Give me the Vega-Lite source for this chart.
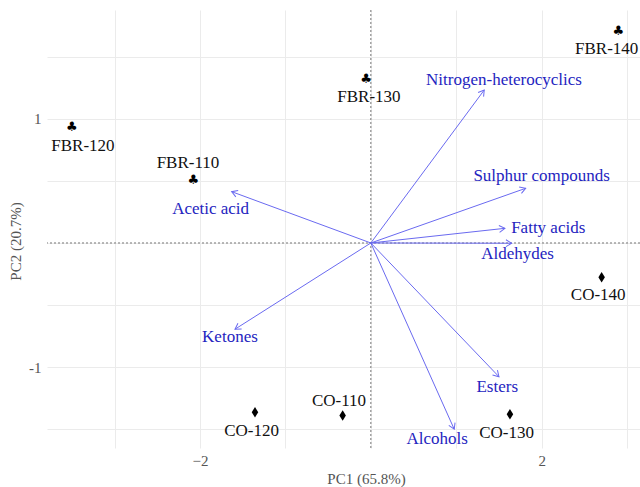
{
  "$schema": "https://vega.github.io/schema/vega-lite/v6.json",
  "width": 593,
  "height": 438,
  "autosize": {"type": "none"},
  "padding": {"left": 47, "top": 10, "right": 0, "bottom": 39},
  "background": "white",
  "config": {
    "view": {"stroke": null},
    "font": "Liberation Serif, Times New Roman, serif",
    "axis": {
      "labelFont": "Liberation Serif, Times New Roman, serif",
      "titleFont": "Liberation Serif, Times New Roman, serif",
      "labelFontSize": 15,
      "titleFontSize": 15,
      "labelColor": "#555555",
      "titleColor": "#555555",
      "titleFontWeight": "normal",
      "gridColor": "#ebebeb",
      "gridWidth": 1,
      "domain": false,
      "ticks": false,
      "tickSize": 0
    }
  },
  "datasets": {
    "scores": [
      {"sample": "FBR-120", "group": "FBR", "pc1": -3.50, "pc2": 0.936, "lx": -3.37, "ly": 0.783},
      {"sample": "FBR-110", "group": "FBR", "pc1": -2.078, "pc2": 0.507, "lx": -2.14, "ly": 0.645},
      {"sample": "FBR-130", "group": "FBR", "pc1": -0.057, "pc2": 1.319, "lx": -0.022, "ly": 1.177},
      {"sample": "FBR-140", "group": "FBR", "pc1": 2.895, "pc2": 1.708, "lx": 2.76, "ly": 1.558},
      {"sample": "CO-120", "group": "CO", "pc1": -1.356, "pc2": -1.362, "lx": -1.395, "ly": -1.51},
      {"sample": "CO-110", "group": "CO", "pc1": -0.33, "pc2": -1.389, "lx": -0.373, "ly": -1.27},
      {"sample": "CO-130", "group": "CO", "pc1": 1.628, "pc2": -1.378, "lx": 1.589, "ly": -1.531},
      {"sample": "CO-140", "group": "CO", "pc1": 2.701, "pc2": -0.276, "lx": 2.661, "ly": -0.418}
    ],
    "loadings": [
      {"variable": "Nitrogen-heterocyclics", "pc1": 1.327, "pc2": 1.231, "lx": 1.558, "ly": 1.311},
      {"variable": "Sulphur compounds", "pc1": 1.812, "pc2": 0.44, "lx": 1.999, "ly": 0.541},
      {"variable": "Fatty acids", "pc1": 1.569, "pc2": 0.118, "lx": 2.076, "ly": 0.121},
      {"variable": "Aldehydes", "pc1": 1.648, "pc2": -0.002, "lx": 1.718, "ly": -0.091},
      {"variable": "Acetic acid", "pc1": -1.629, "pc2": 0.413, "lx": -1.875, "ly": 0.271},
      {"variable": "Ketones", "pc1": -1.59, "pc2": -0.694, "lx": -1.649, "ly": -0.759},
      {"variable": "Esters", "pc1": 1.499, "pc2": -1.076, "lx": 1.479, "ly": -1.156},
      {"variable": "Alcohols", "pc1": 0.976, "pc2": -1.499, "lx": 0.777, "ly": -1.577}
    ]
  },
  "layer": [
    {
      "data": {"name": "scores"},
      "mark": {"type": "point", "opacity": 0},
      "encoding": {
        "x": {
          "field": "pc1", "type": "quantitative",
          "scale": {"domain": [-3.79, 3.15], "nice": false, "zero": false},
          "axis": {
            "title": "PC1 (65.8%)",
            "values": [-3, -2, -1, 0, 1, 2, 3],
            "format": "d",
            "labelExpr": "datum.value == -2 || datum.value == 2 ? datum.label : ''",
            "labelPadding": 5,
            "titleX": 319,
            "titleY": 30,
            "titleBaseline": "middle",
            "titleAnchor": "middle"
          }
        },
        "y": {
          "field": "pc2", "type": "quantitative",
          "scale": {"domain": [-1.65, 1.875], "nice": false, "zero": false},
          "axis": {
            "title": "PC2 (20.7%)",
            "values": [-1.5, -1, -0.5, 0, 0.5, 1, 1.5],
            "labelExpr": "datum.value == -1 ? '-1' : datum.value == 1 ? '1' : ''",
            "labelPadding": 6,
            "titleX": -32,
            "titleY": 231,
            "titleBaseline": "middle",
            "titleAnchor": "middle"
          }
        }
      }
    },
    {
      "data": {"values": [{"v": 0}]},
      "mark": {"type": "rule", "color": "#555555", "strokeDash": [2, 2], "strokeWidth": 0.8},
      "encoding": {"y": {"field": "v", "type": "quantitative"}}
    },
    {
      "data": {"values": [{"v": 0}]},
      "mark": {"type": "rule", "color": "#555555", "strokeDash": [2, 2], "strokeWidth": 0.8},
      "encoding": {"x": {"field": "v", "type": "quantitative"}}
    },
    {
      "data": {"name": "loadings"},
      "mark": {"type": "rule", "color": "#6a6af0", "strokeWidth": 1},
      "encoding": {
        "x": {"field": "pc1", "type": "quantitative"},
        "y": {"field": "pc2", "type": "quantitative"},
        "x2": {"datum": 0},
        "y2": {"datum": 0}
      }
    },
    {
      "data": {"name": "loadings"},
      "transform": [
        {"calculate": "atan2(-datum.pc2 * 124.3, datum.pc1 * 85.45) * 180 / PI", "as": "ang"}
      ],
      "mark": {
        "type": "point",
        "shape": "M-1,-0.6L0,0L-1,0.6",
        "filled": false,
        "size": 130,
        "color": "#6a6af0",
        "strokeWidth": 1,
        "opacity": 1
      },
      "encoding": {
        "x": {"field": "pc1", "type": "quantitative"},
        "y": {"field": "pc2", "type": "quantitative"},
        "angle": {"field": "ang", "type": "quantitative", "scale": null}
      }
    },
    {
      "data": {"name": "loadings"},
      "mark": {"type": "text", "font": "Liberation Serif, Times New Roman, serif", "fontSize": 17, "color": "#2424c0", "baseline": "middle", "align": "center"},
      "encoding": {
        "x": {"field": "lx", "type": "quantitative"},
        "y": {"field": "ly", "type": "quantitative"},
        "text": {"field": "variable"}
      }
    },
    {
      "data": {"name": "scores"},
      "transform": [{"filter": "datum.group == 'FBR'"}],
      "mark": {"type": "text", "font": "DejaVu Sans", "fontSize": 13, "color": "black", "baseline": "middle", "align": "center", "dy": 0},
      "encoding": {
        "x": {"field": "pc1", "type": "quantitative"},
        "y": {"field": "pc2", "type": "quantitative"},
        "text": {"value": "♣"}
      }
    },
    {
      "data": {"name": "scores"},
      "transform": [{"filter": "datum.group == 'CO'"}],
      "mark": {"type": "point", "filled": true, "opacity": 1, "color": "black", "strokeWidth": 0, "shape": "M0,-1L0.62,0L0,1L-0.62,0Z", "size": 110},
      "encoding": {
        "x": {"field": "pc1", "type": "quantitative"},
        "y": {"field": "pc2", "type": "quantitative"}
      }
    },
    {
      "data": {"name": "scores"},
      "mark": {"type": "text", "font": "Liberation Serif, Times New Roman, serif", "fontSize": 17, "color": "#111111", "baseline": "middle", "align": "center"},
      "encoding": {
        "x": {"field": "lx", "type": "quantitative"},
        "y": {"field": "ly", "type": "quantitative"},
        "text": {"field": "sample"}
      }
    }
  ]
}
